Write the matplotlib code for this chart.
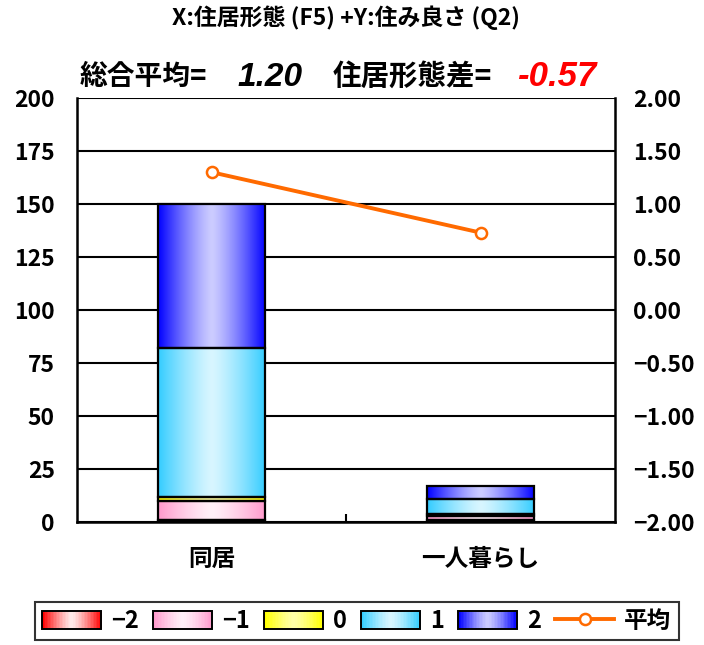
import numpy as np
import matplotlib
matplotlib.use("Agg")
import matplotlib.pyplot as plt
from matplotlib.patches import Rectangle, Patch
from matplotlib.lines import Line2D
from matplotlib.legend_handler import HandlerBase
from matplotlib.ticker import FuncFormatter, MultipleLocator
from matplotlib.colors import to_rgb

plt.rcParams['font.family'] = ['Noto Sans CJK JP', 'DejaVu Sans']
plt.rcParams['font.weight'] = 'bold'

# ---- data ----
categories = ['同居', '一人暮らし']
levels = ['\u22122', '\u22121', '0', '1', '2']
counts_m2 = [1, 1]
counts_m1 = [9, 2]
counts_0 = [2, 1]
counts_1 = [70, 7]
counts_2 = [68, 6]
means = [1.30, 0.73]
title = 'X:住居形態 (F5) +Y:住み良さ (Q2)'
overall_label = '総合平均='
overall_value = '1.20'
diff_label = '住居形態差='
diff_value = '-0.57'
mean_label = '平均'

series = [counts_m2, counts_m1, counts_0, counts_1, counts_2]
grad_colors = [('#ff0000', '#ffeaea'),
               ('#ff99cc', '#fff0f8'),
               ('#ffff00', '#ffffa8'),
               ('#33ccff', '#d8f6ff'),
               ('#0000ff', '#ccccff')]
line_color = '#ff6a00'

def grad_row(c_edge, c_mid, n=256):
    t = np.abs(np.linspace(-1, 1, n)) ** 1.3
    e = np.array(to_rgb(c_edge)); m = np.array(to_rgb(c_mid))
    return (m[None, :] * (1 - t[:, None]) + e[None, :] * t[:, None])

fig = plt.figure(figsize=(7.04, 6.45), dpi=100)
ax = fig.add_axes([77/704, 1-522/645, (615-77)/704, (522-98)/645])
x = np.arange(len(categories))
width = 0.4

bottom = np.zeros(len(categories))
for vals, (ce, cm) in zip(series, grad_colors):
    bars = ax.bar(x, vals, width=width, bottom=bottom, facecolor='none',
                  edgecolor='black', linewidth=1.6, zorder=4)
    img = grad_row(ce, cm)[None, :, :]
    for r in bars:
        bx, by, bw, bh = r.get_x(), r.get_y(), r.get_width(), r.get_height()
        ax.imshow(img, extent=[bx, bx + bw, by, by + bh], aspect='auto',
                  zorder=3, interpolation='bilinear')
    bottom = bottom + np.array(vals)

ax.set_xlim(-0.5, 1.5)
ax.set_ylim(0, 200)
ax.yaxis.set_major_locator(MultipleLocator(25))
ax.grid(axis='y', color='black', linewidth=1.5, zorder=1)
ax.set_axisbelow(True)
ax.set_xticks(x)
ax.set_xticklabels(categories, fontsize=17, fontweight='bold')
ax.set_xticks([0.5], minor=True)
ax.tick_params(axis='x', which='major', length=0, pad=18)
ax.tick_params(axis='x', which='minor', direction='in', length=6, width=1.5)
ax.tick_params(axis='y', length=0, labelsize=16.5, pad=16)
for s in ax.spines.values():
    s.set_linewidth(1.8)
ax.spines['top'].set_visible(False)
for lab in ax.get_yticklabels():
    lab.set_fontweight('bold')

ax2 = ax.twinx()
ax2.plot(x, means, color=line_color, linewidth=2.8, marker='o', markersize=8,
         markerfacecolor='white', markeredgecolor=line_color, markeredgewidth=1.8,
         zorder=5)
ax2.set_ylim(-2, 2)
ax2.yaxis.set_major_locator(MultipleLocator(0.5))
ax2.yaxis.set_major_formatter(FuncFormatter(lambda v, p: f'{v:.2f}'.replace('-', '\u2212')))
ax2.tick_params(axis='y', length=0, labelsize=16.5, pad=13)
for s in ax2.spines.values():
    s.set_visible(False)
for lab in ax2.get_yticklabels():
    lab.set_fontweight('bold')
ax2.set_xlim(-0.5, 1.5)

# texts
fig.text(346/704, 1-18/645, title, ha='center', va='center', fontsize=16.5, fontweight='bold')
fig.text(80/704, 1-77/645, overall_label, ha='left', va='center', fontsize=20, fontweight='bold')
fig.text(237/704, 1-77/645, overall_value, ha='left', va='center', fontsize=24,
         fontweight='bold', style='italic', family='Liberation Sans')
fig.text(333/704, 1-77/645, diff_label, ha='left', va='center', fontsize=20.5, fontweight='bold')
fig.text(517/704, 1-77/645, diff_value, ha='left', va='center', fontsize=25,
         fontweight='bold', style='italic', color='#ff0000', family='Liberation Sans')

# legend with gradient patches
class GradHandler(HandlerBase):
    def __init__(self, ce, cm):
        super().__init__()
        self.ce, self.cm = ce, cm
    def create_artists(self, legend, orig_handle, xdescent, ydescent, width, height, fontsize, trans):
        n = 40
        cols = grad_row(self.ce, self.cm, n)
        arts = []
        for i in range(n):
            arts.append(Rectangle((-xdescent + i * width / n, -ydescent), width / n + 0.3, height,
                                  facecolor=cols[i], edgecolor='none', transform=trans))
        arts.append(Rectangle((-xdescent, -ydescent), width, height, facecolor='none',
                              edgecolor='black', linewidth=1.4, transform=trans))
        return arts

handles = [Patch(label=l) for l in levels]
hmap = {h: GradHandler(ce, cm) for h, (ce, cm) in zip(handles, grad_colors)}
lh = Line2D([], [], color=line_color, linewidth=2.8, marker='o', markersize=8,
            markerfacecolor='white', markeredgecolor=line_color, markeredgewidth=1.8)
handles.append(lh)
labels = levels + [mean_label]
leg = fig.legend(handles, labels, handler_map=hmap, loc='center', ncol=6,
                 bbox_to_anchor=(357/704, 1-621/645), frameon=True, fancybox=False,
                 prop={'size': 17, 'weight': 'bold'}, handlelength=2.5, handleheight=0.8,
                 handletextpad=0.42, columnspacing=0.6, borderpad=0.3, borderaxespad=0)
leg.get_frame().set_edgecolor('black')
leg.get_frame().set_linewidth(1.5)

fig.savefig('out.png', dpi=100)
